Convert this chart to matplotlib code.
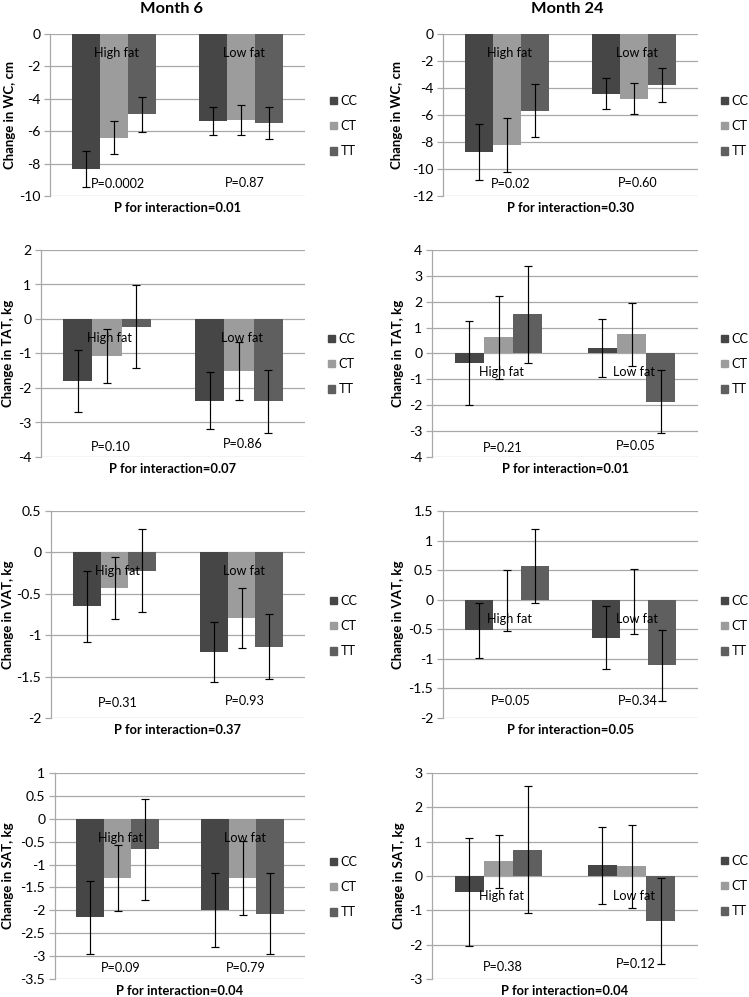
import matplotlib
matplotlib.use("Agg")
import matplotlib.pyplot as plt
import numpy as np
from matplotlib.patches import Patch
from matplotlib.ticker import FuncFormatter, MultipleLocator

FONT = ['Lato', 'DejaVu Sans']
plt.rcParams['font.family'] = FONT
plt.rcParams['axes.unicode_minus'] = False

# ---------------- data ----------------
genotypes = ["CC", "CT", "TT"]
groups = ["High fat", "Low fat"]
col_titles = ["Month 6", "Month 24"]
ylabels = ["Change in WC, cm", "Change in TAT, kg", "Change in VAT, kg", "Change in SAT, kg"]

# values: [group][genotype]
wc_m6 = [[-8.34, -6.40, -4.95], [-5.37, -5.30, -5.49]]
wc_m6_err = [[1.13, 1.00, 1.08], [0.89, 0.92, 0.98]]
wc_m24 = [[-8.74, -8.24, -5.67], [-4.41, -4.78, -3.80]]
wc_m24_err = [[2.06, 2.00, 1.99], [1.14, 1.17, 1.25]]

tat_m6 = [[-1.80, -1.07, -0.22], [-2.37, -1.51, -2.39]]
tat_m6_err = [[0.89, 0.78, 1.20], [0.82, 0.84, 0.90]]
tat_m24 = [[-0.36, 0.63, 1.52], [0.23, 0.74, -1.86]]
tat_m24_err = [[1.63, 1.60, 1.88], [1.12, 1.22, 1.23]]

vat_m6 = [[-0.65, -0.43, -0.22], [-1.20, -0.79, -1.14]]
vat_m6_err = [[0.43, 0.38, 0.50], [0.36, 0.36, 0.39]]
vat_m24 = [[-0.52, -0.01, 0.57], [-0.64, -0.03, -1.11]]
vat_m24_err = [[0.47, 0.52, 0.62], [0.53, 0.55, 0.60]]

sat_m6 = [[-2.15, -1.29, -0.67], [-1.99, -1.30, -2.07]]
sat_m6_err = [[0.80, 0.72, 1.11], [0.81, 0.81, 0.88]]
sat_m24 = [[-0.47, 0.43, 0.77], [0.31, 0.28, -1.31]]
sat_m24_err = [[1.58, 0.77, 1.84], [1.13, 1.20, 1.24]]

p_group = [["P=0.0002", "P=0.87"], ["P=0.02", "P=0.60"],
           ["P=0.10", "P=0.86"], ["P=0.21", "P=0.05"],
           ["P=0.31", "P=0.93"], ["P=0.05", "P=0.34"],
           ["P=0.09", "P=0.79"], ["P=0.38", "P=0.12"]]
p_inter = ["P for interaction=0.01", "P for interaction=0.30",
           "P for interaction=0.07", "P for interaction=0.01",
           "P for interaction=0.37", "P for interaction=0.05",
           "P for interaction=0.04", "P for interaction=0.04"]

yranges = [(-10, 0, 2), (-12, 0, 2), (-4, 2, 1), (-4, 4, 1),
           (-2, 0.5, 0.5), (-2, 1.5, 0.5), (-3.5, 1, 0.5), (-3, 3, 1)]

panels_vals = [wc_m6, wc_m24, tat_m6, tat_m24, vat_m6, vat_m24, sat_m6, sat_m24]
panels_errs = [wc_m6_err, wc_m24_err, tat_m6_err, tat_m24_err,
               vat_m6_err, vat_m24_err, sat_m6_err, sat_m24_err]

# ---------------- layout ----------------
W, H = 749, 997
colors = ["#464646", "#9c9c9c", "#5f5f5f"]
grid_c = "#a8a8a8"

boxes = [(50, 34, 305, 196), (443, 34, 698, 196),
         (41, 250, 305, 457), (432, 250, 698, 457),
         (51, 511, 305, 718), (443, 511, 698, 718),
         (55, 773, 305, 979), (432, 773, 698, 979)]
grp_label_y = [-1.17, -1.41, -0.55, -0.72, -0.225, -0.32, -0.41, -0.59]
p_label_y = [[-9.26, -9.2], [-11.1, -11.04], [-3.70, -3.61], [-3.66, -3.58],
             [-1.82, -1.80], [-1.72, -1.71], [-3.25, -3.25], [-2.65, -2.57]]
ylabel_x = [10, 397, 8, 398, 8, 398, 8, 399]
legend_x = [330, 721, 328, 721, 330, 721, 330, 721]
legend_y = [126, 126, 364, 364, 626, 626, 887, 886]
title_pos = [(172, 9), (567, 9)]

fig = plt.figure(figsize=(W / 100, H / 100), dpi=100)
renderer = fig.canvas.get_renderer()


def fit_size(text, target_px, weight="normal"):
    t = fig.text(0, 0, text, fontsize=10, fontweight=weight)
    w = t.get_window_extent(renderer=renderer).width
    t.remove()
    return 10 * target_px / w


fs_label = fit_size("P=0.0002", 54)
fs_tick = fit_size("-10", 21.5)
fs_inter = fit_size("P for interaction=0.01", 127, "bold")
fs_ylab = fit_size("Change in WC, cm", 108, "bold")
fs_title = fit_size("Month 6", 63, "bold")
fs_leg = fs_label

bw = 0.22
for i in range(8):
    l, t, r, b = boxes[i]
    ax = fig.add_axes([l / W, 1 - b / H, (r - l) / W, (b - t) / H])
    ymin, ymax, step = yranges[i]
    vals = np.array(panels_vals[i])
    errs = np.array(panels_errs[i])
    x = np.arange(len(groups))
    for g in range(len(genotypes)):
        xs = x + (g - 1) * bw
        ax.bar(xs, vals[:, g], width=bw, color=colors[g], zorder=2,
               label=genotypes[g])
        ax.errorbar(xs, vals[:, g], yerr=errs[:, g], fmt="none",
                    ecolor="black", elinewidth=0.85, capsize=2.6, capthick=0.85,
                    zorder=3)
    ax.set_xlim(-0.5, 1.5)
    ax.set_ylim(ymin, ymax)
    ax.yaxis.set_major_locator(MultipleLocator(step))
    ax.yaxis.set_major_formatter(FuncFormatter(lambda v, p: "%g" % (0 if abs(v) < 1e-9 else v)))
    ax.set_xticks([])
    ax.grid(axis="y", color=grid_c, linewidth=0.9, zorder=0)
    ax.set_axisbelow(True)
    for s in ["top", "right", "bottom"]:
        ax.spines[s].set_visible(False)
    ax.spines["left"].set_color(grid_c)
    ax.spines["left"].set_linewidth(0.9)
    ax.tick_params(axis="y", direction="out", length=4, width=0.9,
                   color=grid_c, labelsize=fs_tick, pad=3, labelcolor="black")
    for gi, gname in enumerate(groups):
        ax.text(gi + 0.02, grp_label_y[i], gname, ha="center", va="center",
                fontsize=fs_label, zorder=4)
        ax.text(gi + 0.03, p_label_y[i][gi], p_group[i][gi], ha="center",
                va="center", fontsize=fs_label, zorder=4)
    ax.annotate(p_inter[i], xy=(0.5, 0), xycoords="axes fraction",
                xytext=(0, -8.6), textcoords="offset points",
                ha="center", va="center", fontsize=fs_inter, fontweight="bold")
    fig.text(ylabel_x[i] / W, 1 - (t + b) / 2 / H, ylabels[i // 2],
             rotation=90, ha="center", va="center", fontsize=fs_ylab,
             fontweight="bold")
    handles = [Patch(color=colors[g], label=genotypes[g]) for g in range(3)]
    fig.legend(handles=handles, loc="center left",
               bbox_to_anchor=(legend_x[i] / W, 1 - legend_y[i] / H),
               frameon=False, fontsize=fs_leg, handlelength=0.55, handleheight=0.55,
               handletextpad=0.3, borderpad=0, borderaxespad=0,
               labelspacing=1.05)

for c in range(2):
    fig.text(title_pos[c][0] / W, 1 - title_pos[c][1] / H, col_titles[c],
             ha="center", va="center", fontsize=fs_title, fontweight="bold")

fig.savefig("out.png", dpi=100)
